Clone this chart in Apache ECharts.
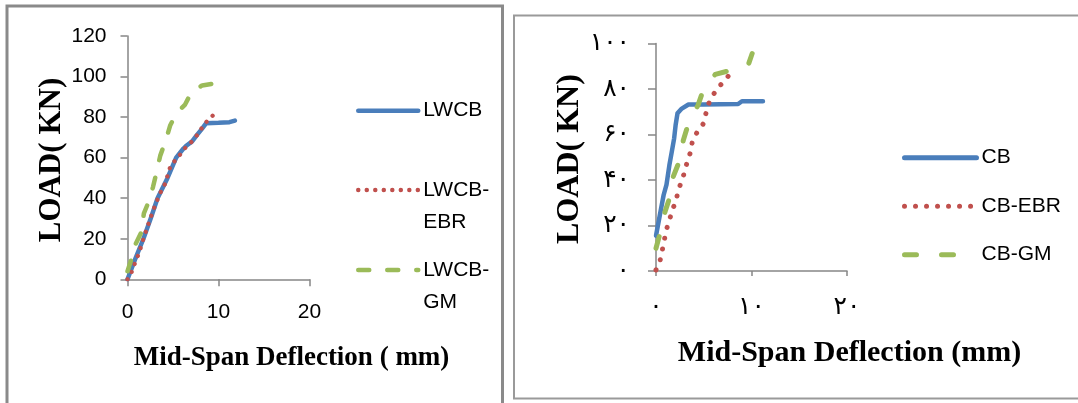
<!DOCTYPE html>
<html>
<head>
<meta charset="utf-8">
<script src="https://cdn.jsdelivr.net/npm/echarts@6/dist/echarts.min.js"></script>
<style>
html,body{margin:0;padding:0;background:#fff;}
#c{width:1078px;height:403px;}
</style>
</head>
<body>
<div id="c"></div>
<script>
// ---- Left panel data (Mid-span deflection mm, load kN) ----
const lwcbX = [0, 0.85, 1.75, 2.55, 3.3, 4.4, 5.35, 6.15, 6.5, 7.1, 7.6, 8.2, 8.65, 10, 11.2, 11.8];
const lwcbY = [0, 10, 20, 30, 40, 50, 60, 64.5, 66, 68, 71, 74.3, 77, 77.2, 77.5, 78.3];
const lwcbEbrX = [0, 0.37, 0.66, 1.28, 1.76, 2.42, 3.04, 3.6, 4.14, 4.69, 5.16, 5.71, 6.26, 6.96, 7.55, 7.99, 8.46, 8.9, 9.56];
const lwcbEbrY = [0, 2.6, 6.2, 13.1, 20.2, 28.9, 36.6, 42.6, 47.2, 55.4, 58.2, 61.1, 64.4, 67.4, 70.5, 73.4, 76.7, 78.7, 81.6];
const lwcbGmX = [0, 0.5, 0.9, 1.5, 1.8, 2.3, 2.8, 3.2, 3.6, 4.2, 4.7, 5.4, 6.3, 7.0, 8.2, 9.8];
const lwcbGmY = [4, 11, 17.5, 23, 32.5, 38, 45.5, 53, 61, 68.5, 76, 82, 86, 92, 95.6, 96.8];

// ---- Right panel data ----
const cbX = [0, 0.4, 0.8, 1.1, 1.4, 1.65, 1.9, 2.05, 2.25, 2.7, 3.4, 5.0, 8.6, 9.0, 11.2];
const cbY = [15.5, 24.5, 33.4, 38, 46.5, 52.4, 58.3, 64, 69.3, 71.4, 73.2, 73.2, 73.4, 74.6, 74.6];
const cbEbrX = [0, 0.42, 0.66, 0.87, 1.1, 1.4, 1.74, 2.1, 2.33, 2.68, 3.03, 3.28, 3.63, 3.8, 4.29, 4.95, 5.2, 5.47, 5.89, 6.45, 7.0, 7.6];
const cbEbrY = [0.5, 4.4, 9.2, 13.6, 18.3, 22.4, 27, 31, 35.4, 39.5, 43.9, 48.3, 52.4, 56.8, 60.9, 64.7, 68.8, 73.2, 76.9, 80.2, 82.9, 85.8];
const cbGmX = [0, 0.42, 0.94, 1.46, 1.8, 2.5, 2.86, 3.4, 4.4, 4.95, 6.2, 7.9, 9.65, 10.07];
const cbGmY = [10, 16.5, 26, 32.6, 41.4, 48.8, 57.5, 64.9, 72.9, 79.5, 86.4, 88.3, 90.5, 95.6];

// ---- Tick labels ----
const persianDigits = ['۰','۱','۲','۳','۴','۵','۶','۷','۸','۹'];
function toPersian(v) { return String(v).replace(/[0-9]/g, d => persianDigits[+d]); }

function pairs(xs, ys) { return xs.map((x, i) => [x, ys[i]]); }

const BLUE = '#4a7ebb', RED = '#c0504d', GREEN = '#9bbb59', AXIS = '#868686';
const serif = "'Liberation Serif', 'Times New Roman', serif";
const sans = "'Liberation Sans', Arial, sans-serif";

const chart = echarts.init(document.getElementById('c'), null, {renderer: 'canvas'});

function axisCommon() {
  return {
    type: 'value', min: 0,
    axisLine: {show: true, lineStyle: {color: AXIS, width: 1.5}},
    axisTick: {show: true, inside: false, length: 7, lineStyle: {color: AXIS, width: 1.5}},
    splitLine: {show: false}
  };
}

function legendBase(extra) {
  return Object.assign({
    padding: 0, orient: 'vertical', itemHeight: 14,
    itemStyle: {opacity: 0},
    lineStyle: {width: 4.5}
  }, extra);
}

const option = {
  animation: false,
  backgroundColor: '#fff',
  grid: [
    {left: 127.5, top: 36, width: 182, height: 243.3},
    {left: 656, top: 43.5, width: 191, height: 227.5}
  ],
  xAxis: [
    Object.assign(axisCommon(), {gridIndex: 0, max: 20, interval: 10,
      axisLabel: {margin: 22, fontSize: 21, color: '#000', fontFamily: sans}}),
    Object.assign(axisCommon(), {gridIndex: 1, max: 20, interval: 10,
      axisTick: {show: true, length: 5, lineStyle: {color: AXIS, width: 1.5}},
      axisLabel: {margin: 24, fontSize: 25, color: '#000', fontFamily: "'DejaVu Sans', sans-serif",
        formatter: v => toPersian(v)}})
  ],
  yAxis: [
    Object.assign(axisCommon(), {gridIndex: 0, max: 120, interval: 20,
      axisLabel: {margin: 21, fontSize: 21, color: '#000', fontFamily: sans}}),
    Object.assign(axisCommon(), {gridIndex: 1, max: 100, interval: 20,
      axisTick: {show: true, length: 8, lineStyle: {color: AXIS, width: 1.5}},
      axisLabel: {margin: 26, fontSize: 25, color: '#000', fontFamily: "'DejaVu Sans', sans-serif",
        formatter: v => toPersian(v)}})
  ],
  legend: [
    legendBase({data: ['LWCB'], left: 356, top: 94.7, itemWidth: 60,
      textStyle: {fontSize: 21, lineHeight: 32, color: '#000', fontFamily: sans}}),
    legendBase({data: ['LWCB-EBR'], left: 356, top: 142, itemWidth: 60,
      formatter: () => '\nLWCB-\nEBR',
      textStyle: {fontSize: 21, lineHeight: 32, color: '#000', fontFamily: sans}}),
    legendBase({data: ['LWCB-GM'], left: 356, top: 222, itemWidth: 60,
      formatter: () => '\nLWCB-\nGM',
      textStyle: {fontSize: 21, lineHeight: 32, color: '#000', fontFamily: sans}}),
    legendBase({data: ['CB', 'CB-EBR', 'CB-GM'], left: 902, top: 145.7,
      itemWidth: 72, itemGap: 24.5, lineStyle: {width: 5},
      textStyle: {fontSize: 21, lineHeight: 24, color: '#000', fontFamily: sans}})
  ],
  series: [
    {name: 'LWCB', type: 'line', xAxisIndex: 0, yAxisIndex: 0, data: pairs(lwcbX, lwcbY),
      symbol: 'none', color: BLUE, lineStyle: {color: BLUE, width: 4.5, cap: 'round', join: 'round'}},
    {name: 'LWCB-EBR', type: 'line', xAxisIndex: 0, yAxisIndex: 0, data: pairs(lwcbEbrX, lwcbEbrY),
      symbol: 'none', color: RED, lineStyle: {color: RED, width: 4.3, type: [0.01, 8.5], cap: 'round', join: 'round'}},
    {name: 'LWCB-GM', type: 'line', xAxisIndex: 0, yAxisIndex: 0, data: pairs(lwcbGmX, lwcbGmY),
      symbol: 'none', color: GREEN, lineStyle: {color: GREEN, width: 4.5, type: [11, 18], cap: 'round', join: 'round'}},
    {name: 'CB', type: 'line', xAxisIndex: 1, yAxisIndex: 1, data: pairs(cbX, cbY),
      symbol: 'none', color: BLUE, lineStyle: {color: BLUE, width: 4.5, cap: 'round', join: 'round'}},
    {name: 'CB-EBR', type: 'line', xAxisIndex: 1, yAxisIndex: 1, data: pairs(cbEbrX, cbEbrY),
      symbol: 'none', color: RED, lineStyle: {color: RED, width: 5, type: [0.01, 11], cap: 'round', join: 'round'}},
    {name: 'CB-GM', type: 'line', xAxisIndex: 1, yAxisIndex: 1, data: pairs(cbGmX, cbGmY),
      symbol: 'none', color: GREEN, lineStyle: {color: GREEN, width: 5, type: [12, 25], cap: 'round', join: 'round'}}
  ],
  graphic: [
    {type: 'polyline', shape: {points: [[7, 410], [7, 6], [502.5, 6], [502.5, 410]]},
      style: {fill: null, stroke: '#8a8a8a', lineWidth: 3}},
    {type: 'rect', shape: {x: 514, y: 15.5, width: 600, height: 383}, style: {fill: null, stroke: '#9a9a9a', lineWidth: 2}},
    {type: 'text', x: 52, y: 160, rotation: Math.PI / 2,
      style: {text: 'LOAD( KN)', font: "bold 31px " + serif, fill: '#000', align: 'center', verticalAlign: 'middle'}},
    {type: 'text', x: 291.5, y: 358,
      style: {text: 'Mid-Span Deflection ( mm)', font: "bold 27px " + serif, fill: '#000', align: 'center', verticalAlign: 'middle'}},
    {type: 'text', x: 570, y: 159, rotation: Math.PI / 2,
      style: {text: 'LOAD( KN)', font: "bold 32px " + serif, fill: '#000', align: 'center', verticalAlign: 'middle'}},
    {type: 'text', x: 849.5, y: 353,
      style: {text: 'Mid-Span Deflection (mm)', font: "bold 30px " + serif, fill: '#000', align: 'center', verticalAlign: 'middle'}}
  ]
};
chart.setOption(option);
</script>
</body>
</html>
